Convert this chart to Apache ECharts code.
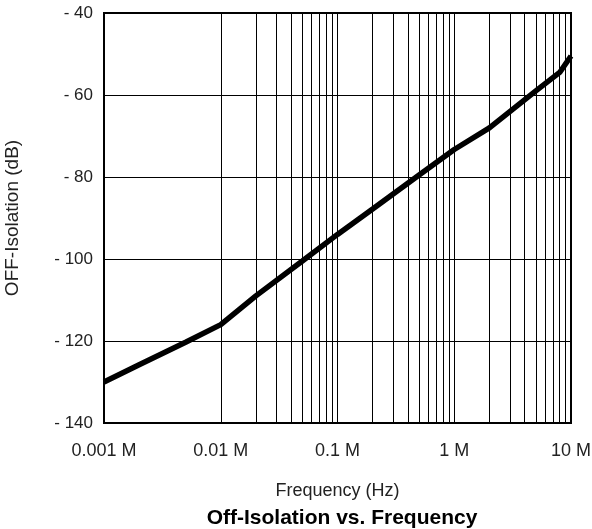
<!DOCTYPE html>
<html>
<head>
<meta charset="utf-8">
<script src="https://cdn.jsdelivr.net/npm/echarts@6/dist/echarts.min.js"></script>
<style>html,body{margin:0;padding:0;background:#fff}#c{width:592px;height:529px}</style>
</head>
<body>
<div id="c"></div>
<script>
// Frequency in MHz (M), isolation in dB
var freqM = [0.001, 0.002, 0.005, 0.01, 0.02, 0.05, 0.1, 0.2, 0.5, 1, 2, 5, 8, 10];
var isolationDb = [-130, -125.8, -120.3, -116, -109, -100.5, -94, -87.8, -79.5, -73.3, -68, -59, -54.5, -50.5];
var xTickLabels = ['0.001 M', '0.01 M', '0.1 M', '1 M', '10 M'];
var minorGridFreqs = [0.002,0.003,0.004,0.005,0.006,0.007,0.008,0.009,
  0.02,0.03,0.04,0.05,0.06,0.07,0.08,0.09,
  0.2,0.3,0.4,0.5,0.6,0.7,0.8,0.9,
  2,3,4,5,6,7,8,9];
var yMin = -140, yMax = -40, yStep = 20;

var font = 'Liberation Sans, Arial, Helvetica, sans-serif';
var chart = echarts.init(document.getElementById('c'), null, {renderer: 'canvas'});
chart.setOption({
  animation: false,
  backgroundColor: '#fff',
  title: {
    text: 'Off-Isolation vs. Frequency',
    left: 337, top: 503, textAlign: 'center',
    textStyle: {fontFamily: font, fontSize: 21, fontWeight: 'bold', color: '#000'}
  },
  grid: {left: 104, right: 21, top: 13, bottom: 106, containLabel: false, outerBoundsMode: 'none',
    show: true, borderColor: '#000', borderWidth: 2},
  xAxis: {
    type: 'log', logBase: 10, min: 0.001, max: 10,
    name: 'Frequency (Hz)', nameLocation: 'middle', nameGap: 59,
    nameTextStyle: {fontFamily: font, fontSize: 18, color: '#222'},
    axisLine: {show: true, lineStyle: {color: '#000', width: 2}},
    axisTick: {show: false},
    axisLabel: {margin: 19, fontFamily: font, fontSize: 18, color: '#222',
      formatter: function (v, i) { return xTickLabels[i] || ''; }},
    splitLine: {show: true, lineStyle: {color: '#000', width: 1}},
    minorTick: {show: false}, minorSplitLine: {show: false}
  },
  yAxis: {
    type: 'value', min: yMin, max: yMax, interval: yStep,
    name: 'OFF-Isolation (dB)', nameLocation: 'middle', nameGap: 82,
    nameTextStyle: {fontFamily: font, fontSize: 19, color: '#222'},
    axisLine: {show: true, lineStyle: {color: '#000', width: 2}},
    axisTick: {show: false},
    axisLabel: {margin: 11, fontFamily: font, fontSize: 17, color: '#222',
      formatter: function (v) { return v < 0 ? '- ' + Math.abs(v) : String(v); }},
    splitLine: {show: true, lineStyle: {color: '#000', width: 1}}
  },
  series: [
    {
      type: 'line', silent: true, data: [], z: 1,
      markLine: {
        silent: true, symbol: ['none', 'none'], label: {show: false},
        lineStyle: {color: '#000', width: 1, type: 'solid'},
        data: minorGridFreqs.map(function (f) { return {xAxis: f}; })
      }
    },
    {
      type: 'line', z: 5,
      data: freqM.map(function (f, i) { return [f, isolationDb[i]]; }),
      showSymbol: false, smooth: false,
      lineStyle: {color: '#000', width: 5.5}
    }
  ]
});
</script>
</body>
</html>
